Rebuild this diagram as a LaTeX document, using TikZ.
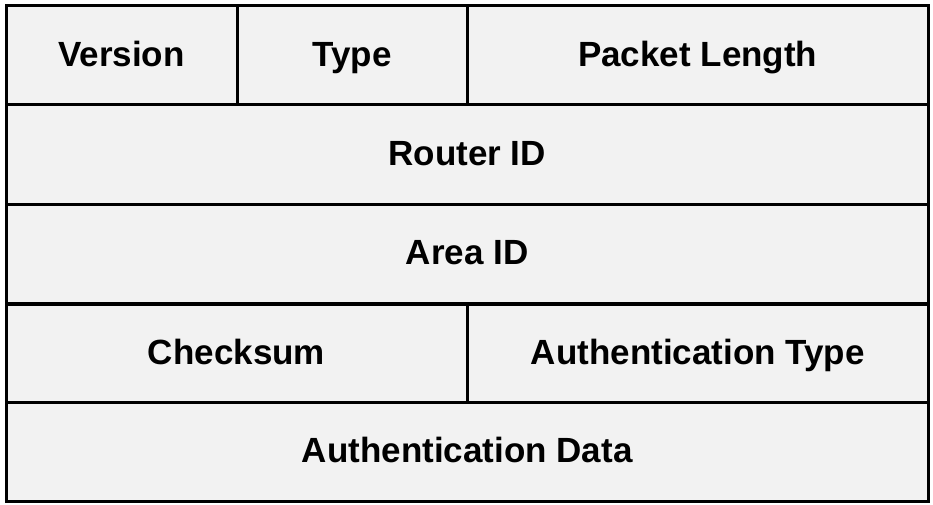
\documentclass[tikz,border=0pt]{standalone}
\usepackage{fontspec}
\setmainfont{Liberation Sans}
\definecolor{cellbg}{HTML}{F2F2F2}
\begin{document}
\begin{tikzpicture}[x=1pt,y=-1pt,
  cell/.style={draw=black,line width=3pt,fill=cellbg,inner sep=0pt,anchor=north west},
  lbl/.style={font=\fontsize{35}{40}\selectfont\bfseries,text=black,inner sep=0pt,
    text height=25pt,text depth=0pt,yshift=1.5pt}]
\useasboundingbox (0,0) rectangle (933,505);
\fill[white] (0,0) rectangle (933,505);
% row 1
\node[cell,minimum width=231pt,minimum height=99pt] (ver) at (4.5,4.5) {};
\node[cell,minimum width=230pt,minimum height=99pt] (typ) at (235.5,4.5) {};
\node[cell,minimum width=461.5pt,minimum height=99pt] (len) at (465.5,4.5) {};
% row 2
\node[cell,minimum width=922.5pt,minimum height=99pt] (rid) at (4.5,103.5) {};
% row 3
\node[cell,minimum width=922.5pt,minimum height=99.5pt] (aid) at (4.5,202.5) {};
% row 4
\node[cell,minimum width=461pt,minimum height=98pt] (chk) at (4.5,302.5) {};
\node[cell,minimum width=461.5pt,minimum height=98pt] (aut) at (465.5,302.5) {};
% row 5
\node[cell,minimum width=922.5pt,minimum height=99pt] (adt) at (4.5,400.5) {};
% labels
\node[lbl] at (ver.center) {Version};
\node[lbl] at (typ.center) {Type};
\node[lbl] at (len.center) {Packet Length};
\node[lbl] at (rid.center) {Router ID};
\node[lbl] at (aid.center) {Area ID};
\node[lbl] at (chk.center) {Checksum};
\node[lbl] at (aut.center) {Authentication Type};
\node[lbl] at (adt.center) {Authentication Data};
\end{tikzpicture}
\end{document}
